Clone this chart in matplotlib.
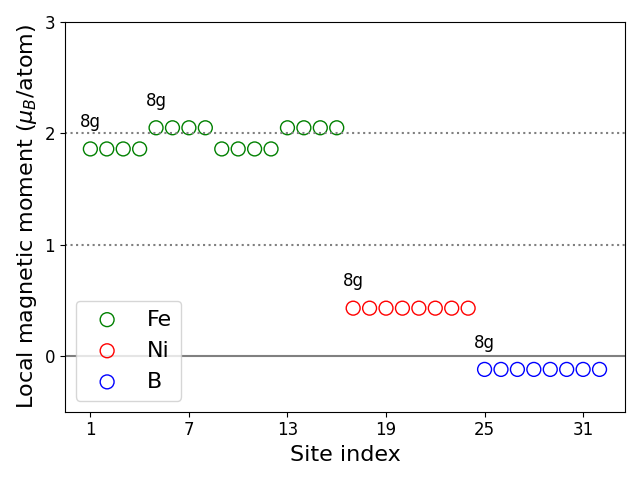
import matplotlib
matplotlib.use("Agg")
import matplotlib.pyplot as plt
import numpy as np

fe_sites = list(range(1, 17))
fe_moments = [1.86, 1.86, 1.86, 1.86, 2.05, 2.05, 2.05, 2.05,
              1.86, 1.86, 1.86, 1.86, 2.05, 2.05, 2.05, 2.05]
ni_sites = list(range(17, 25))
ni_moments = [0.43] * 8
b_sites = list(range(25, 33))
b_moments = [-0.12] * 8

labels_x = [1, 5, 17, 25]
labels_y = [1.86, 2.05, 0.43, -0.12]
labels_txt = ["8g", "8g", "8g", "8g"]

fig, ax = plt.subplots(figsize=(6.4, 4.8), dpi=100)
ax.axhline(0, color="gray", lw=1.5)
ax.axhline(1, color="gray", ls=":", lw=1.5)
ax.axhline(2, color="gray", ls=":", lw=1.5)
ax.scatter(fe_sites, fe_moments, s=100, facecolors="none", edgecolors="green", label="Fe")
ax.scatter(ni_sites, ni_moments, s=100, facecolors="none", edgecolors="red", label="Ni")
ax.scatter(b_sites, b_moments, s=100, facecolors="none", edgecolors="blue", label="B")
for x, y, t in zip(labels_x, labels_y, labels_txt):
    ax.text(x, y + 0.16, t, ha="center", va="bottom", fontsize=12)
ax.set_ylim(-0.5, 3)
ax.set_yticks([0, 1, 2, 3])
ax.set_xticks([1, 7, 13, 19, 25, 31])
ax.tick_params(labelsize=12)
ax.set_xlabel("Site index", fontsize=16)
ax.set_ylabel(r"Local magnetic moment ($\mu_B$/atom)", fontsize=16)
ax.legend(fontsize=16, loc="lower left")
fig.tight_layout()
fig.savefig("out.png", dpi=100)
